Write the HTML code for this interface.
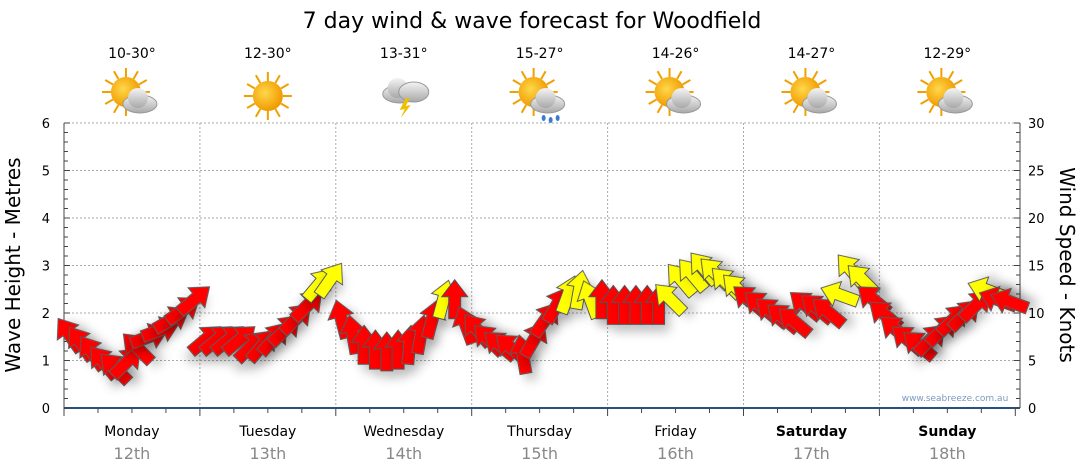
<!DOCTYPE html>
<html><head><meta charset="utf-8"><style>
body{margin:0;background:#fff;}
svg{display:block;font-family:"DejaVu Sans",Verdana,"Liberation Sans",sans-serif;}
</style></head><body>
<svg id="chart" width="1080" height="475" viewBox="0 0 1080 475">
<defs>
<filter id="sh" x="-50%" y="-50%" width="200%" height="200%"><feDropShadow dx="5" dy="7" stdDeviation="5" flood-color="#000" flood-opacity="0.22"/></filter>
<radialGradient id="sun" cx="0.4" cy="0.4" r="0.6"><stop offset="0" stop-color="#ffd84a"/><stop offset="1" stop-color="#f09a00"/></radialGradient>
<linearGradient id="cloud" x1="0" y1="0" x2="0" y2="1"><stop offset="0" stop-color="#f4f4f4"/><stop offset="1" stop-color="#a8a8a8"/></linearGradient>
</defs>
<text x="532" y="28" font-size="22" text-anchor="middle" fill="#000">7 day wind &amp; wave forecast for Woodfield</text>
<g id="grid"></g>
<g id="axes"></g>
<g id="icons"></g>
<g id="arrows"></g>
<text x="955" y="401" font-size="9" fill="#7a9ac0" text-anchor="middle">www.seabreeze.com.au</text>
<text transform="translate(20,265) rotate(-90)" font-size="20" text-anchor="middle">Wave Height - Metres</text>
<text transform="translate(1060,265) rotate(90)" font-size="20" text-anchor="middle">Wind Speed - Knots</text>
</svg>
<script>
const days = ["Monday","Tuesday","Wednesday","Thursday","Friday","Saturday","Sunday"];
const dates = ["12th","13th","14th","15th","16th","17th","18th"];
const temps = ["10-30°","12-30°","13-31°","15-27°","14-26°","14-27°","12-29°"];
const weather = ["partly","sunny","storm","showers","partly","partly","partly"];
const leftTicks = [0,1,2,3,4,5,6];
const rightTicks = [0,5,10,15,20,25,30];
// wind speed (knots), every 2 hours
const windSpeed = [
 7.7,6.8,5.8,4.8,4.2,4.8,6.3,7.5,8.2,9.3,10.3,11.4,
 7.2,7.2,7.2,7.2,6.5,6.6,7.3,8.2,9.4,10.8,13.0,13.5,
 9.3,7.7,6.6,6.1,5.9,6.1,6.6,7.7,9.3,11.4,11.4,8.7,
 8.2,7.2,6.6,6.3,5.6,7.2,9.3,10.8,11.9,12.4,11.4,11.4,
 10.8,10.8,10.8,10.8,10.8,11.5,13.5,14.0,14.7,14.2,13.2,12.5,
 11.4,10.8,10.1,9.5,9.1,10.8,10.5,10.1,11.9,14.5,13.5,11.4,
 9.8,8.2,7.2,6.6,7.2,8.2,9.3,9.8,10.8,12.4,11.4,11.2];
// arrow heading (degrees clockwise from up)
const windDir = [
 -35,-35,-35,-40,-45,45,-45,70,70,60,55,50,
 50,50,50,50,45,40,40,45,45,45,40,35,
 -15,-10,0,0,0,0,5,10,15,15,0,-20,
 -40,-45,-50,-50,-10,30,35,30,20,10,-20,0,
 0,0,0,0,0,-45,-40,-40,-40,-45,-45,-45,
 -50,-50,-50,-50,-50,-50,-50,-50,-70,-40,-45,-50,
 -50,-50,-50,-50,45,45,45,45,45,-70,-70,-70];
const windYellow = [
 0,0,0,0,0,0,0,0,0,0,0,0,
 0,0,0,0,0,0,0,0,0,0,1,1,
 0,0,0,0,0,0,0,0,0,1,0,0,
 0,0,0,0,0,0,0,0,1,1,1,0,
 0,0,0,0,0,1,1,1,1,1,1,1,
 0,0,0,0,0,0,0,0,1,1,1,0,
 0,0,0,0,0,0,0,0,0,1,0,0];

const X0=64, DAYW=135.9, Y0=408, Y1=123, XR=1020;
const xHour = h => X0 + h*DAYW/24;
const yMetre = m => Y0 - (Y0-Y1)*m/6;
const yKnot = k => Y0 - (Y0-Y1)*k/30;
const NS="http://www.w3.org/2000/svg";
function mk(tag, attrs, parent){const e=document.createElementNS(NS,tag);for(const k in attrs)e.setAttribute(k,attrs[k]);parent.appendChild(e);return e;}

const grid=document.getElementById('grid');
leftTicks.forEach(m=>{ if(m>0){
  const l=mk('line',{x1:X0,x2:XR,y1:yMetre(m),y2:yMetre(m),stroke:'#aaa','stroke-dasharray':'2,2'},grid);
  
  
}});
for(let d=1;d<7;d++){
  const l=mk('line',{x1:xHour(d*24),x2:xHour(d*24),y1:Y1,y2:Y0,stroke:'#aaa','stroke-dasharray':'2,2'},grid);
  
  
}
const axes=document.getElementById('axes');
mk('line',{x1:X0,x2:X0,y1:Y1,y2:Y0,stroke:'#444'},axes);
mk('line',{x1:XR,x2:XR,y1:Y1,y2:Y0,stroke:'#444'},axes);
mk('line',{x1:X0,x2:XR,y1:Y0,y2:Y0,stroke:'#2a5080','stroke-width':2},axes);
for(let i=0;i<=30;i++){
  const y=yMetre(i*0.2), len=i%5==0?6:4;
  mk('line',{x1:X0,x2:X0+len,y1:y,y2:y,stroke:'#444'},axes);
  const y2=yKnot(i), l2=i%5==0?6:4;
  mk('line',{x1:XR,x2:XR-l2,y1:y2,y2:y2,stroke:'#444'},axes);
}
for(let h=0;h<=168;h+=6){mk('line',{x1:xHour(h),x2:xHour(h),y1:Y0,y2:Y0+(h%24==0?8:5),stroke:'#444'},axes);}
leftTicks.forEach(m=>{const t=mk('text',{x:50,y:yMetre(m)+5,'font-size':13,'text-anchor':'end'},axes);t.textContent=m;
  
  });
rightTicks.forEach(k=>{const t=mk('text',{x:1028,y:yKnot(k)+5,'font-size':13},axes);t.textContent=k;
  
  });
days.forEach((d,i)=>{
  const cx=xHour(i*24+12);
  const t=mk('text',{x:cx,y:436,'font-size':14,'text-anchor':'middle','font-weight':i>=5?'bold':'normal'},axes);t.textContent=d;
  
  
  const t2=mk('text',{x:cx,y:459,'font-size':16,'text-anchor':'middle',fill:'#888'},axes);t2.textContent=dates[i];
  
  
  const t3=mk('text',{x:cx,y:58,'font-size':14,'text-anchor':'middle'},axes);t3.textContent=temps[i];
  
  
});
const icons=document.getElementById('icons');
weather.forEach((w,i)=>{
  const cx=xHour(i*24+12), cy=96;
  const g=mk('g',{},icons);
  
  
  const sx=cx-(w==='sunny'?0:6), sy=cy-(w==='sunny'?0:4);
  if(w!=='storm'){
    for(let a=0;a<360;a+=30){const r=(a)*Math.PI/180;mk('line',{x1:sx+Math.cos(r)*15,y1:sy+Math.sin(r)*15,x2:sx+Math.cos(r)*24,y2:sy+Math.sin(r)*24,stroke:'#f0a000','stroke-width':2},g);}
    mk('circle',{cx:sx,cy:sy,r:15,fill:'url(#sun)'},g);
  }
  if(w!=='sunny'){
    const ox=w==='storm'?-4:8, oy=w==='storm'?-6:4;
    mk('ellipse',{cx:cx+ox,cy:cy+oy+4,rx:17,ry:9,fill:'url(#cloud)',stroke:'#999'},g);
    mk('circle',{cx:cx+ox-2,cy:cy+oy-2,r:10,fill:'url(#cloud)'},g);
    if(w==='storm'){mk('ellipse',{cx:cx+10,cy:cy-4,rx:15,ry:10,fill:'url(#cloud)',stroke:'#999'},g);
      mk('polygon',{points:`${cx+2},${cy+2} ${cx-4},${cy+14} ${cx+1},${cy+13} ${cx-3},${cy+22} ${cx+7},${cy+9} ${cx+2},${cy+10} ${cx+6},${cy+2}`,fill:'#f0c000'},g);}
    if(w==='showers'){[[-4,18],[3,20],[10,18]].forEach(p=>mk('ellipse',{cx:cx+ox+p[0],cy:cy+oy+p[1],rx:2,ry:3,fill:'#3a7ad0'},g));}
  }
});
const arrows=document.getElementById('arrows');
const shape="0,-20 13,-3 6,-3 6,19 -6,19 -6,-3 -13,-3";
windSpeed.forEach((s,i)=>{
  const x=xHour(i*2+1), y=yKnot(s);
  const p=mk('polygon',{points:shape,transform:`translate(${x.toFixed(1)},${y.toFixed(1)}) rotate(${windDir[i]})`,fill:windYellow[i]?'#ffff00':'#ff0000',stroke:'#555','stroke-width':1,filter:'url(#sh)'},arrows);
  
  
});
</script>
</body></html>
